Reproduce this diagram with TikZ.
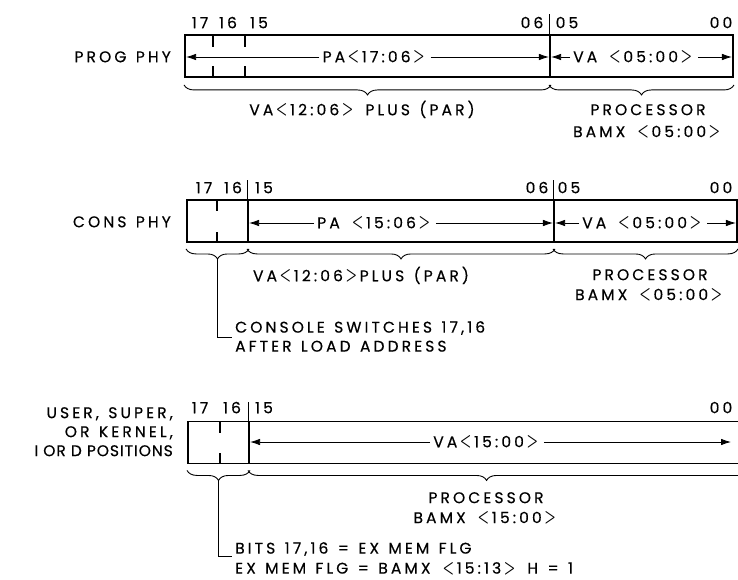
\documentclass[tikz,border=0pt]{standalone}
\usepackage{fontspec}
\setmainfont{Poppins}[LetterSpace=20,WordSpace=1.3,FakeBold=0.4]
\newfontfamily\tightfont{Poppins}[LetterSpace=6,FakeBold=0.4]
\usetikzlibrary{arrows.meta, decorations.pathreplacing, calc}
\newcommand\ltag{\,\raisebox{0.6pt}{\scalebox{0.9}[1.3]{\boldmath$<$}}\,}
\newcommand\rtag{\,\raisebox{0.6pt}{\scalebox{0.9}[1.3]{\boldmath$>$}}\,}

\begin{document}
\begin{tikzpicture}[
  x=1pt,y=-1pt,
  reg/.style={draw,line width=1.9pt,minimum height=42pt,inner sep=0pt},
  lab/.style={font=\fontsize{15.5}{17}\selectfont,text height=10.5pt,text depth=0pt,inner sep=3pt},
  txt/.style={font=\fontsize{15.5}{17}\selectfont,inner sep=0pt},
  arr/.style={-{Latex[length=10pt,width=6.5pt]},line width=0.8pt,shorten >=2pt},
  brc/.style={decorate,decoration={brace,mirror,amplitude=10pt},line width=0.9pt},
  tk/.style={line width=1.6pt},
  bar/.style={line width=1pt}
]
  \useasboundingbox (0,0) rectangle (738,580);
  \clip (0,0) rectangle (738,580);

  % PROG PHY
  \node[reg,minimum width=365pt](pa1) at (367.5,56) {};
  \node[reg,minimum width=183pt](va1) at (641.5,56) {};
  \node[lab,anchor=east](nm1) at (174,57) {PROG PHY};
  \node[lab](b17a) at (200,23) {17};
  \node[lab](b16a) at (228,23) {16};
  \node[lab](b15a) at (259,23) {15};
  \node[lab](b06a) at (532,23) {06};
  \node[lab](b05a) at (567,23) {05};
  \node[lab](b00a) at (721,23) {00};
  \draw[bar](va1.north west) -- ++(0,-20);
  \foreach \x in {213,245}{
    \draw[tk](\x,35) -- ++(0,12);
    \draw[tk](\x,77) -- ++(0,-11);
  }
  \node[lab](pt1) at (375,57) {PA\ltag17:06\rtag};
  \node[lab](vt1) at (634,57) {VA \ltag05:00\rtag};
  \draw[arr](pt1.west) -- (pt1.west -| pa1.west);
  \draw[arr](pt1.east) -- (pt1.east -| pa1.east);
  \draw[arr](vt1.west) -- (vt1.west -| va1.west);
  \draw[arr](vt1.east) -- (vt1.east -| va1.east);
  \draw[brc]([yshift=-7pt]pa1.south west) -- ([yshift=-7pt]pa1.south east);
  \draw[brc]([yshift=-7pt]va1.south west) -- ([yshift=-7pt]va1.south east);
  \node[lab](ba1) at (362,110) {VA\ltag12:06\rtag{} PLUS (PAR)};
  \node[txt,anchor=north,align=center](pr1) at (648,104) {PROCESSOR\\[5pt]BAMX \ltag05:00\rtag};

  % CONS PHY
  \node[reg,minimum width=61pt](lo2) at (217.5,221) {};
  \node[reg,minimum width=306pt](pa2) at (401,221) {};
  \node[reg,minimum width=183pt](va2) at (645.5,221) {};
  \node[lab,anchor=east](nm2) at (174,222) {CONS PHY};
  \node[lab](b17b) at (204,188) {17};
  \node[lab](b16b) at (233,188) {16};
  \node[lab](b15b) at (264,188) {15};
  \node[lab](b06b) at (537,188) {06};
  \node[lab](b05b) at (569,188) {05};
  \node[lab](b00b) at (721,188) {00};
  \draw[bar](pa2.north west) -- ++(0,-19);
  \draw[bar](va2.north west) -- ++(0,-19);
  \draw[tk](217,200) -- ++(0,11);
  \draw[tk](217,242) -- ++(0,-10);
  \node[lab](pt2) at (375,223) {PA \ltag15:06\rtag};
  \node[lab](vt2) at (643,223) {VA \ltag05:00\rtag};
  \draw[arr](pt2.west) -- (pt2.west -| pa2.west);
  \draw[arr](pt2.east) -- (pt2.east -| pa2.east);
  \draw[arr](vt2.west) -- (vt2.west -| va2.west);
  \draw[arr](vt2.east) -- (vt2.east -| va2.east);
  \draw[brc]([yshift=-6pt]lo2.south west) -- ([yshift=-6pt]lo2.south east);
  \draw[brc]([yshift=-6pt]pa2.south west) -- ([yshift=-6pt]pa2.south east);
  \draw[brc]([yshift=-6pt]va2.south west) -- ([yshift=-6pt]va2.south east);
  \node[lab](ba2) at (361,276) {VA\ltag12:06\rtag PLUS (PAR)};
  \node[txt,anchor=north,align=center](pr2) at (650,269) {PROCESSOR\\[3pt]BAMX \ltag05:00\rtag};
  \coordinate (tp2) at ([yshift=-16pt]lo2.south);
  \coordinate (k2) at (232,337);
  \node[txt,anchor=north west,align=left](cs2) at (235,321) {CONSOLE SWITCHES 17,16\\[2pt]AFTER LOAD ADDRESS};
  \draw[bar](tp2) |- (k2);

  % USER, SUPER, OR KERNEL
  \node[reg,minimum width=61pt](lo3) at (218.5,442.5) {};
  \node[reg,minimum width=511pt](va3) at (504.5,442.5) {};
  \node[txt,anchor=north east,align=right](nm3) at (173,407) {USER, SUPER,\\[2pt]OR KERNEL,\\[2pt]{\tightfont I OR D POSITIONS}};
  \node[lab](b17c) at (200,408) {17};
  \node[lab](b16c) at (232,408) {16};
  \node[lab](b15c) at (264,408) {15};
  \node[lab](b00c) at (721,408) {00};
  \draw[bar](va3.north west) -- ++(0,-19);
  \draw[tk](220,422) -- ++(0,11);
  \draw[tk](220,463) -- ++(0,-10);
  \node[lab](vt3) at (487,442) {VA\ltag15:00\rtag};
  \coordinate (e3) at (733,442);
  \draw[arr](vt3.west) -- (vt3.west -| va3.west);
  \draw[arr](vt3.east) -- (e3);
  \draw[brc]([yshift=-6pt]lo3.south west) -- ([yshift=-6pt]lo3.south east);
  \draw[brc,decoration={aspect=0.465}]([yshift=-6pt]va3.south west) -- ([yshift=-6pt]va3.south east);
  \node[txt,anchor=north,align=center](pr3) at (486,492) {PROCESSOR\\[3pt]BAMX \ltag15:00\rtag};
  \coordinate (tp3) at ([yshift=-16pt]lo3.south);
  \coordinate (k3) at (232,556);
  \node[txt,anchor=north west,align=left](bt3) at (235,542) {BITS 17,16 = EX MEM FLG\\[3pt]EX MEM FLG = BAMX \ltag15:13\rtag{} H = 1};
  \draw[bar](tp3) |- (k3);
\end{tikzpicture}
\end{document}
